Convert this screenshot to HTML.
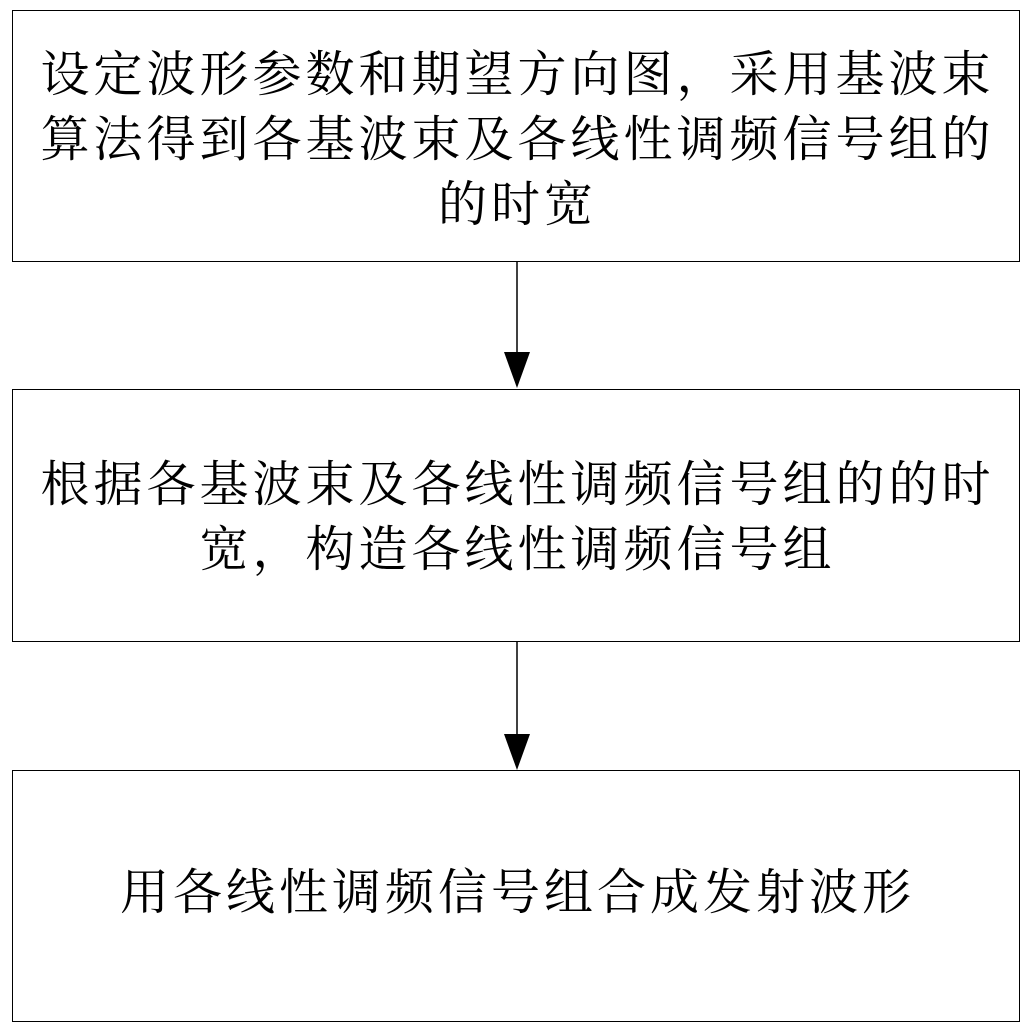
<!DOCTYPE html>
<html><head><meta charset="utf-8"><style>
body{margin:0;width:1035px;height:1035px;background:#fff;position:relative;font-family:"Liberation Serif","Noto Serif CJK SC",serif;}
.b{position:absolute;left:12px;width:1008px;border:1.5px solid #000;box-sizing:border-box;}
.t{position:absolute;left:0;width:1035px;text-align:center;font-size:49px;letter-spacing:4px;line-height:65px;white-space:nowrap;}
</style></head><body>
<div class="b" style="top:10px;height:252px"></div>
<div class="b" style="top:389px;height:253px"></div>
<div class="b" style="top:770px;height:252px"></div>
<div class="t" style="top:42px">设定波形参数和期望方向图，采用基波束<br>算法得到各基波束及各线性调频信号组的<br>的时宽</div>
<div class="t" style="top:452px">根据各基波束及各线性调频信号组的的时<br>宽，构造各线性调频信号组</div>
<div class="t" style="top:860px">用各线性调频信号组合成发射波形</div>
<svg width="1035" height="1035" style="position:absolute;left:0;top:0">
<line x1="517" y1="262" x2="517" y2="356" stroke="#000" stroke-width="1.5"/>
<polygon points="504,352 530,352 517,388" fill="#000"/>
<line x1="517" y1="642" x2="517" y2="738" stroke="#000" stroke-width="1.5"/>
<polygon points="504,734 530,734 517,770" fill="#000"/>
</svg>
</body></html>
